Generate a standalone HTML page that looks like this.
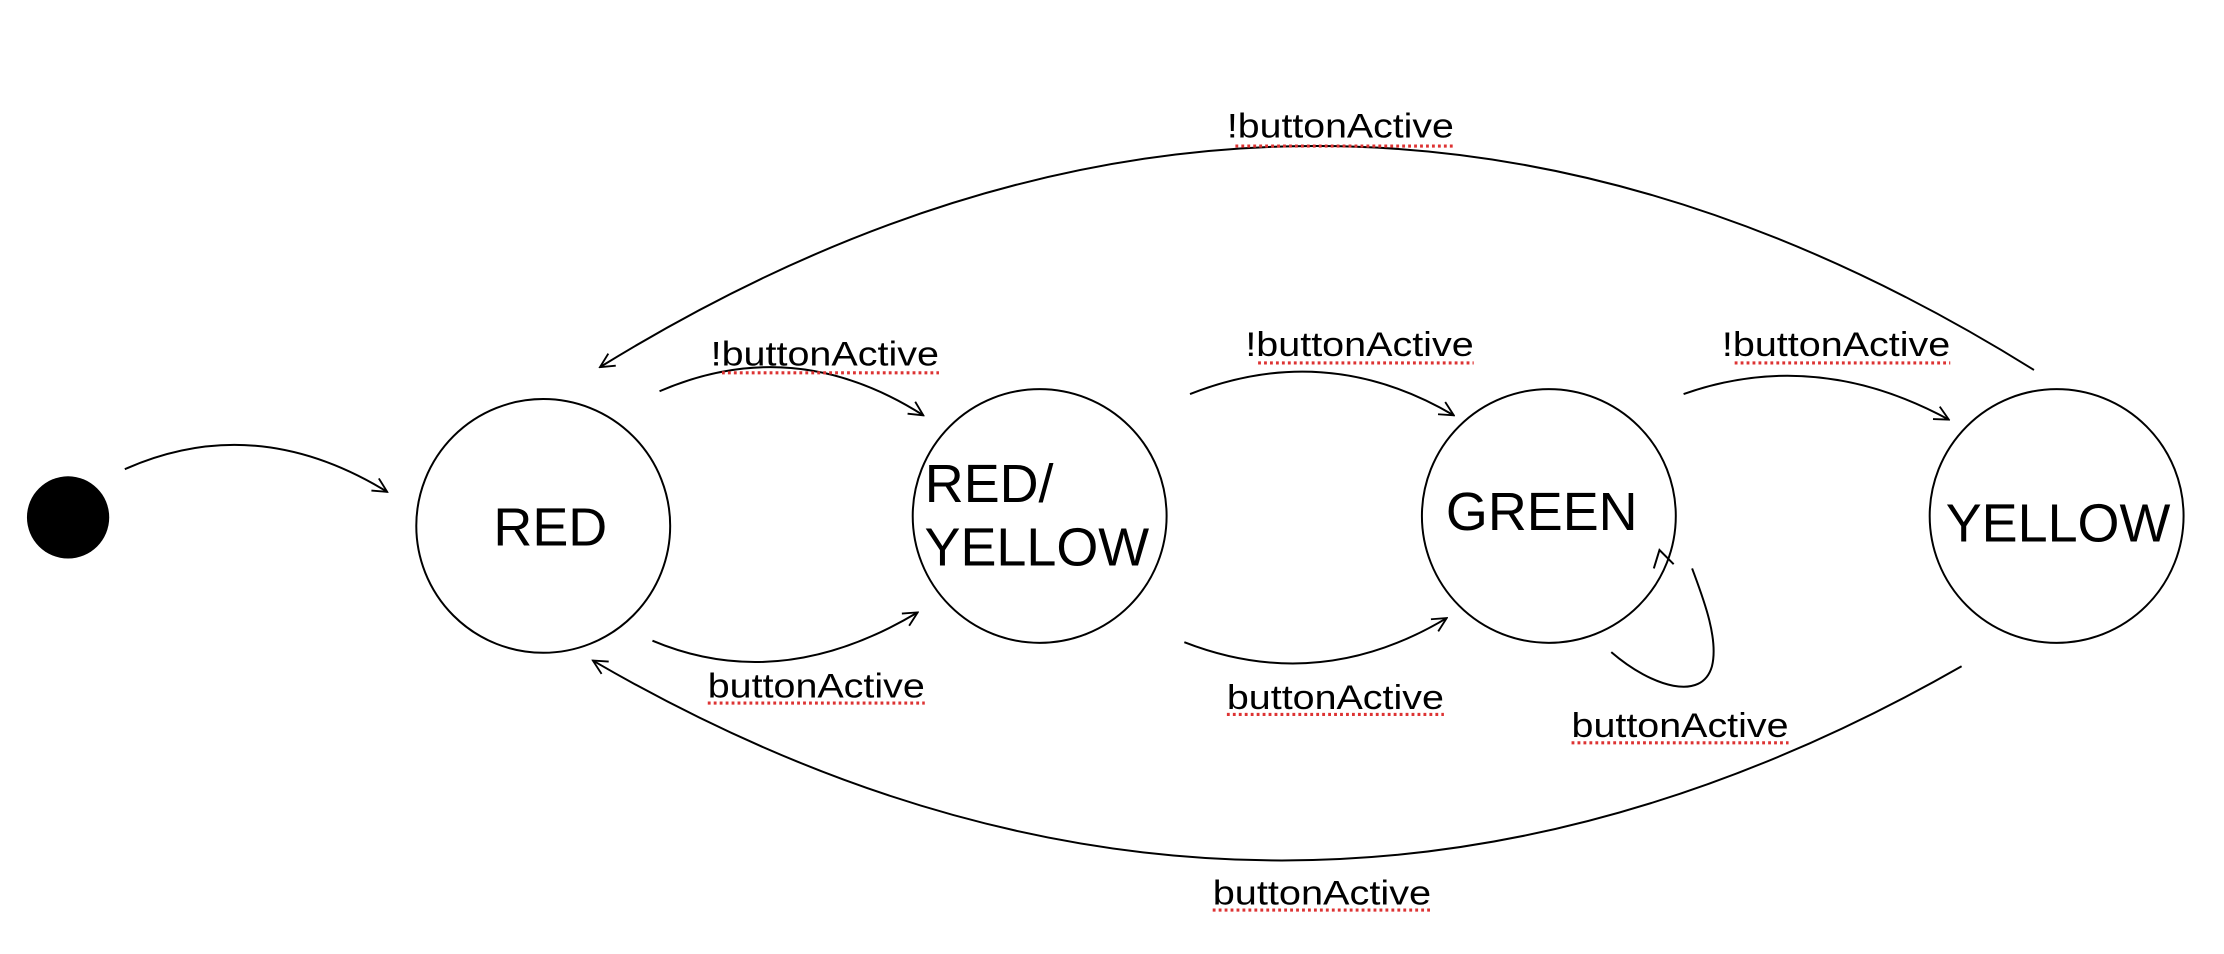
<!DOCTYPE html>
<html><head><meta charset="utf-8"><style>
html,body{margin:0;padding:0;background:#fff;}
svg{display:block}
text{font-family:"Liberation Sans",sans-serif;fill:#000}
</style></head><body>
<svg width="2224" height="954" viewBox="0 0 1568 673" preserveAspectRatio="none" xmlns="http://www.w3.org/2000/svg">
<defs>
<marker id="a" viewBox="0 0 12 12" refX="11" refY="6" markerWidth="12" markerHeight="12" markerUnits="userSpaceOnUse" orient="auto">
<path d="M1,1 L11,6 L1,11" fill="none" stroke="#000" stroke-width="1.3"/>
</marker>
</defs>
<g fill="none" stroke="#000" stroke-width="1.4">
<circle cx="383" cy="371" r="89.5"/>
<circle cx="733" cy="364" r="89.5"/>
<circle cx="1092" cy="364" r="89.5"/>
<circle cx="1450" cy="364" r="89.5"/>
<path d="M88,331 Q180,290 273,347" marker-end="url(#a)"/>
<path d="M465,276 Q560,235 651,293" marker-end="url(#a)"/>
<path d="M839,278 Q935,240 1025,293" marker-end="url(#a)"/>
<path d="M1187,278 Q1280,245 1374,296" marker-end="url(#a)"/>
<path d="M1434,261 Q930,-54 423,259" marker-end="url(#a)"/>
<path d="M460,452 Q550,490 647,432" marker-end="url(#a)"/>
<path d="M835,453 Q930,490 1020,436" marker-end="url(#a)"/>
<path d="M1383,470 Q900,746 418,466" marker-end="url(#a)"/>
<path d="M1136,460 C1165,485 1200,495 1207,470 C1212,450 1200,420 1193,401"/>
<path d="M1166,401 L1170,388 L1180,398" />
</g>
<circle cx="48" cy="365" r="29" fill="#000"/>
<g font-size="38" text-anchor="middle">
<text x="388" y="385">RED</text>
<text x="652" y="354" text-anchor="start">RED/</text>
<text x="731" y="399">YELLOW</text>
<text x="1087" y="374">GREEN</text>
<text x="1451" y="382">YELLOW</text>
</g>
<g font-size="24" lengthAdjust="spacingAndGlyphs">
<text x="865" y="97" textLength="160" lengthAdjust="spacingAndGlyphs">!buttonActive</text>
<text x="501" y="258" textLength="161" lengthAdjust="spacingAndGlyphs">!buttonActive</text>
<text x="878" y="251" textLength="161" lengthAdjust="spacingAndGlyphs">!buttonActive</text>
<text x="1214" y="251" textLength="161" lengthAdjust="spacingAndGlyphs">!buttonActive</text>
<text x="499" y="492" textLength="153" lengthAdjust="spacingAndGlyphs">buttonActive</text>
<text x="865" y="500" textLength="153" lengthAdjust="spacingAndGlyphs">buttonActive</text>
<text x="1108" y="520" textLength="153" lengthAdjust="spacingAndGlyphs">buttonActive</text>
<text x="855" y="638" textLength="154" lengthAdjust="spacingAndGlyphs">buttonActive</text>
</g>
<g stroke="#d33" stroke-width="2.2" stroke-dasharray="2 2.2" fill="none">
<line x1="871" y1="103" x2="1025" y2="103"/>
<line x1="509" y1="263" x2="662" y2="263"/>
<line x1="887" y1="256" x2="1039" y2="256"/>
<line x1="1223" y1="256" x2="1375" y2="256"/>
<line x1="499" y1="496" x2="652" y2="496"/>
<line x1="865" y1="504" x2="1018" y2="504"/>
<line x1="1108" y1="524" x2="1261" y2="524"/>
<line x1="855" y1="642" x2="1009" y2="642"/>
</g>
</svg>
</body></html>
